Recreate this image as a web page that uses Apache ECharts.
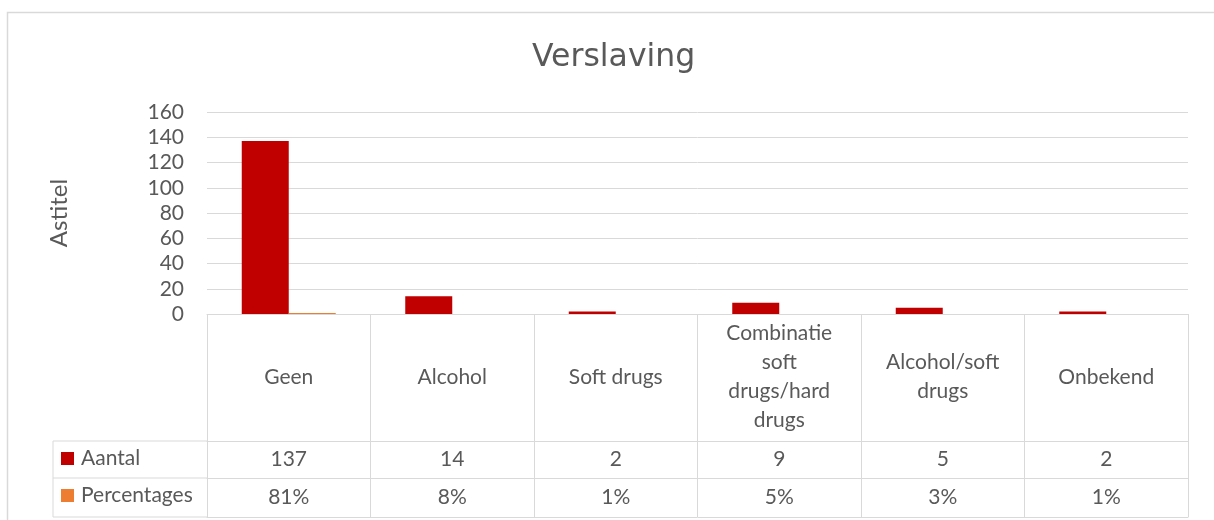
<!DOCTYPE html>
<html>
<head>
<meta charset="utf-8">
<script src="https://cdn.jsdelivr.net/npm/echarts@6/dist/echarts.min.js"></script>
<style>
html,body{margin:0;padding:0;background:#fff;}
#chart{width:1214px;height:520px;}
</style>
</head>
<body>
<div id="chart"></div>
<script>
const categories = ['Geen', 'Alcohol', 'Soft drugs', 'Combinatie\nsoft\ndrugs/hard\ndrugs', 'Alcohol/soft\ndrugs', 'Onbekend'];
const seriesNames = ['Aantal', 'Percentages'];
const aantal = [137, 14, 2, 9, 5, 2];
const percentages = [0.81, 0.08, 0.01, 0.05, 0.03, 0.01];
const yTicks = { min: 0, max: 160, interval: 20 };

const TXT = '#595959';
const LINE = '#D9D9D9';
const FONT = 'Lato, "Open Sans", sans-serif';

const gridL = 207, gridR = 26, gridT = 112, gridB = 206;
const axisY = 520 - gridB;
const rows = [127, 164, 203];
const tableLeft = 53;

const chart = echarts.init(document.getElementById('chart'), null, {renderer: 'canvas'});

const pct = v => Math.round(v * 100) + '%';

const legendBase = {
  orient: 'horizontal',
  left: 61,
  padding: 0,
  itemWidth: 13,
  itemHeight: 13,
  icon: 'rect',
  selectedMode: false,
  textStyle: { fontFamily: FONT, fontSize: 21, color: TXT, padding: [0, 0, 0, 2] }
};

const option = {
  animation: false,
  backgroundColor: '#fff',
  textStyle: { fontFamily: FONT },
  title: {
    text: 'Verslaving',
    left: 527,
    top: 37,
    textStyle: { fontFamily: '"DejaVu Sans", Verdana, sans-serif', fontSize: 31.5, fontWeight: 'normal', color: TXT }
  },
  legend: [
    Object.assign({}, legendBase, { top: 448, data: [seriesNames[0]] }),
    Object.assign({}, legendBase, { top: 485, data: [seriesNames[1]] })
  ],
  grid: { left: gridL, right: gridR, top: gridT, bottom: gridB, containLabel: false },
  xAxis: [
    {
      type: 'category',
      data: categories,
      position: 'bottom',
      axisLine: { show: true, lineStyle: { color: LINE, width: 1 } },
      axisTick: { show: true, length: 203, lineStyle: { color: LINE, width: 1 } },
      axisLabel: {
        interval: 0, margin: 63, verticalAlign: 'middle',
        fontFamily: FONT, fontSize: 21, color: TXT, lineHeight: 29, align: 'center'
      },
      splitLine: { show: false },
      z: 5
    },
    {
      type: 'category',
      data: aantal.map(String),
      position: 'bottom',
      offset: rows[0],
      axisLine: { show: true, lineStyle: { color: LINE, width: 1 } },
      axisTick: { show: false },
      axisLabel: { interval: 0, margin: 18, verticalAlign: 'middle', fontFamily: FONT, fontSize: 21, color: TXT }
    },
    {
      type: 'category',
      data: percentages.map(pct),
      position: 'bottom',
      offset: rows[1],
      axisLine: { show: true, lineStyle: { color: LINE, width: 1 } },
      axisTick: { show: false },
      axisLabel: { interval: 0, margin: 19, verticalAlign: 'middle', fontFamily: FONT, fontSize: 21, color: TXT }
    },
    {
      type: 'category',
      data: categories,
      position: 'bottom',
      offset: rows[2],
      axisLine: { show: true, lineStyle: { color: LINE, width: 1 } },
      axisTick: { show: false },
      axisLabel: { show: false }
    }
  ],
  yAxis: {
    type: 'value',
    min: yTicks.min,
    max: yTicks.max,
    interval: yTicks.interval,
    name: 'Astitel',
    nameLocation: 'middle',
    nameRotate: 90,
    nameGap: 136,
    nameTextStyle: { fontFamily: FONT, fontSize: 24, color: TXT },
    axisLine: { show: false },
    axisTick: { show: false },
    axisLabel: { margin: 23, fontFamily: FONT, fontSize: 21, color: TXT },
    splitLine: { lineStyle: { color: LINE, width: 1 } }
  },
  series: [
    {
      name: seriesNames[0],
      type: 'bar',
      data: aantal,
      barWidth: 47,
      barGap: '0%',
      itemStyle: { color: '#C00000' },
      xAxisIndex: 0
    },
    {
      name: seriesNames[1],
      type: 'bar',
      data: percentages,
      barWidth: 47,
      barGap: '0%',
      itemStyle: { color: '#ED7D31' },
      xAxisIndex: 0
    }
  ],
  graphic: [
    { type: 'rect', shape: { x: 7.5, y: 12.5, width: 1230, height: 540 }, style: { fill: null, stroke: LINE, lineWidth: 1.5 }, silent: true, z: -10 },
    { type: 'line', shape: { x1: tableLeft, y1: axisY + rows[0], x2: gridL, y2: axisY + rows[0] }, style: { stroke: LINE, lineWidth: 1 }, silent: true },
    { type: 'line', shape: { x1: tableLeft, y1: axisY + rows[1], x2: gridL, y2: axisY + rows[1] }, style: { stroke: LINE, lineWidth: 1 }, silent: true },
    { type: 'line', shape: { x1: tableLeft, y1: axisY + rows[2], x2: gridL, y2: axisY + rows[2] }, style: { stroke: LINE, lineWidth: 1 }, silent: true },
    { type: 'line', shape: { x1: tableLeft, y1: axisY + rows[0], x2: tableLeft, y2: axisY + rows[2] }, style: { stroke: LINE, lineWidth: 1 }, silent: true }
  ]
};

chart.setOption(option);
</script>
</body>
</html>
